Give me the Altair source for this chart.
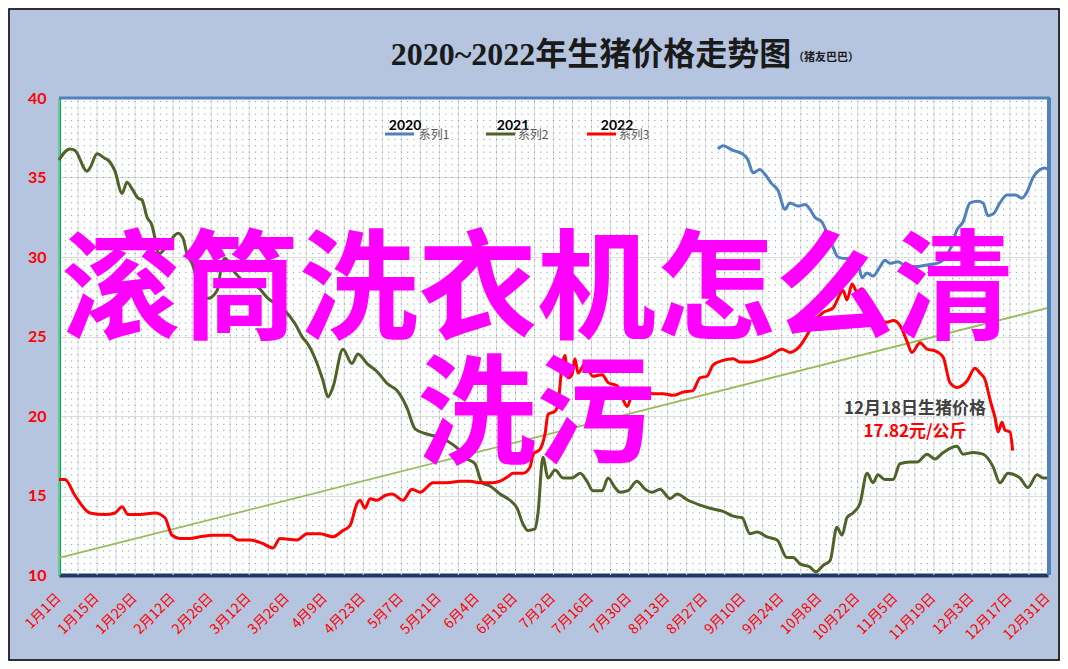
import altair as alt
import pandas as pd

# ---------------- text ----------------
title_main = "2020~2022年生猪价格走势图"
title_sub = "（猪友巴巴）"
overlay_lines = ["滚筒洗衣机怎么清", "洗污"]
note_lines = ["12月18日生猪价格", "17.82元/公斤"]
series_names = ["系列1", "系列2", "系列3"]
series_years = ["2020", "2021", "2022"]
series_colors = ["#4f81bd", "#4f6228", "#ff0000"]
series_widths = [3, 3, 3.8]
trend_color = "#9bbb59"

x_tick_labels = ["1月1日", "1月15日", "1月29日", "2月12日", "2月26日", "3月12日", "3月26日",
                 "4月9日", "4月23日", "5月7日", "5月21日", "6月4日", "6月18日", "7月2日",
                 "7月16日", "7月30日", "8月13日", "8月27日", "9月10日", "9月24日", "10月8日",
                 "10月22日", "11月5日", "11月19日", "12月3日", "12月17日", "12月31日"]
x_tick_days = [0, 14, 28, 42, 56, 70, 84, 98, 112, 126, 140, 154, 168, 182, 196, 210,
               224, 238, 252, 266, 280, 294, 308, 322, 336, 350, 364]
x_grid_days = [0, 7, 14, 21, 28, 35, 42, 49, 56, 63, 70, 77, 84, 91, 98, 105, 112, 119, 126,
               133, 140, 147, 154, 161, 168, 175, 182, 189, 196, 203, 210, 217, 224, 231, 238,
               245, 252, 259, 266, 273, 280, 287, 294, 301, 308, 315, 322, 329, 336, 343, 350,
               357, 364]
y_ticks = [10, 15, 20, 25, 30, 35, 40]

# ---------------- series (day of year, price) ----------------
days_2020 = [242.5, 244.4, 248.1, 251.4, 253.6, 255.4, 258.0, 259.8, 262.4, 264.6, 267.2, 269.0,
             272.0, 274.6, 276.4, 278.2, 280.8, 282.7, 284.9, 286.7, 289.3, 292.2, 294.1, 295.5,
             297.4, 299.6, 302.2, 304.0, 305.8, 308.8, 312.1, 315.8, 319.5, 323.1, 326.8, 328.7,
             330.5, 332.7, 335.3, 338.2, 340.1, 341.9, 343.8, 346.3, 348.9, 351.9, 354.4, 356.3,
             358.5, 361.1, 362.9, 364.0]
vals_2020 = [36.8, 37.0, 36.7, 36.5, 36.1, 35.3, 35.5, 35.2, 34.6, 34.2, 33.0, 33.4,
             33.2, 33.3, 33.0, 32.5, 32.2, 31.5, 30.6, 30.0, 29.9, 29.9, 29.6, 28.7,
             29.0, 28.8, 29.4, 29.8, 29.6, 29.7, 29.4, 29.4, 29.5, 29.6, 30.1, 30.8,
             31.7, 32.2, 33.4, 33.5, 33.4, 32.6, 32.7, 33.4, 33.9, 33.9, 33.7, 34.1,
             35.0, 35.5, 35.6, 35.5]

days_2021 = [0, 4.0, 5.9, 10.3, 11.4, 14.0, 16.9, 18.0, 20.6, 23.2, 25.0, 27.2, 29.1, 30.5,
             32.4, 34.2, 35.3, 36.8, 40.1, 43.8, 45.6, 47.1, 49.0, 52.6, 54.8, 58.2, 60.0,
             61.1, 64.8, 68.5, 73.2, 76.9, 82.1, 86.9, 89.8, 91.3, 95.0, 97.2, 99.0, 100.8,
             104.5, 107.8, 110.0, 113.4, 117.0, 121.1, 124.4, 128.1, 131.0, 134.7, 139.1,
             143.2, 146.5, 150.2, 153.1, 155.7, 158.6, 162.3, 166.0, 168.6, 170.8, 172.6,
             175.2, 176.3, 178.1, 180.0, 182.6, 185.5, 188.8, 191.8, 194.3, 196.5, 199.9,
             202.1, 204.6, 206.5, 209.4, 212.7, 215.7, 218.3, 221.2, 224.9, 227.5, 231.5,
             235.9, 239.6, 244.4, 248.1, 251.4, 254.3, 256.9, 260.6, 264.3, 267.9, 270.2,
             272.7, 276.4, 278.6, 281.2, 283.8, 286.3, 288.2, 290.0, 292.2, 294.8, 297.4,
             299.6, 301.4, 304.0, 307.0, 309.5, 313.2, 315.8, 319.5, 322.4, 325.4, 330.5,
             332.7, 336.4, 340.1, 343.8, 346.3, 349.3, 353.7, 356.6, 360.0, 362.2, 364.0]
vals_2021 = [36.1, 36.8, 36.7, 35.4, 35.6, 36.5, 36.2, 36.1, 35.4, 34.0, 34.7, 34.2, 33.7, 33.6,
             32.5, 32.0, 31.2, 30.2, 30.8, 31.5, 31.2, 30.2, 29.6, 27.6, 27.4, 27.9, 29.6,
             29.9, 29.0, 28.4, 28.1, 27.4, 26.8, 25.8, 24.9, 24.6, 23.3, 22.2, 21.2, 21.8,
             24.2, 23.3, 23.9, 23.3, 22.8, 22.0, 21.6, 20.5, 19.2, 18.9, 18.7,
             18.4, 18.0, 17.3, 17.0, 15.8, 15.6, 15.1, 14.7, 14.2, 13.2, 12.8,
             12.9, 13.9, 17.4, 16.1, 16.6, 16.1, 16.1, 16.4, 15.9, 15.3, 15.3,
             16.1, 15.5, 15.2, 15.3, 15.9, 15.4, 15.2, 15.4, 14.8, 15.1, 14.7,
             14.4, 14.2, 14.0, 13.7, 13.6, 12.6, 12.7, 12.4, 12.2, 11.1, 11.1,
             10.7, 10.5, 10.2, 10.6, 10.9, 13.0, 12.5, 13.6, 13.9, 14.5, 16.4,
             15.8, 16.3, 16.0, 16.0, 17.0, 17.1, 17.1, 17.6, 17.3, 17.7, 18.1,
             17.6, 17.7, 17.6, 16.8, 15.8, 16.4, 16.1, 15.5, 16.3, 16.1, 16.1]

days_2022 = [0, 2.2, 5.9, 11.4, 16.9, 20.6, 23.2, 25.4, 29.8, 35.3, 39.0, 41.6, 44.5, 48.2,
             51.9, 56.7, 62.9, 65.9, 70.3, 74.7, 78.8, 81.3, 87.6, 91.3, 96.1, 100.8, 104.5,
             107.1, 109.7, 110.8, 112.6, 114.5, 117.0, 120.0, 122.6, 126.6, 129.9, 132.9,
             137.7, 142.8, 147.6, 151.3, 155.0, 159.7, 162.3, 165.3, 167.1, 170.8, 173.4,
             174.5, 177.0, 178.9, 180.0, 182.6, 183.7, 185.1, 186.2, 187.3, 188.8, 189.9,
             191.0, 193.6, 196.5, 199.9, 202.1, 205.4, 207.2, 209.1, 211.3, 214.9, 218.6,
             222.3, 226.0, 229.7, 233.3, 235.9, 238.5, 240.7, 244.4, 248.1, 250.6, 254.3,
             258.7, 261.7, 266.1, 269.0, 272.7, 275.7, 278.2, 281.2, 284.9, 288.6, 290.0,
             291.9, 293.7, 295.5, 297.4, 299.6, 302.2, 304.7, 307.0, 309.5, 312.1, 313.9,
             316.9, 319.5, 322.4, 325.4, 327.9, 330.5, 334.2, 337.1, 339.0, 340.8, 342.7,
             344.5, 345.6, 347.1, 348.2, 350.0, 351.0]
vals_2022 = [16.0, 16.0, 15.0, 13.9, 13.8, 13.9, 14.3, 13.8, 13.8, 13.9, 13.6, 12.5, 12.3, 12.3,
             12.4, 12.5, 12.5, 12.2, 12.2, 12.0, 11.7, 12.3, 12.2, 12.6, 12.6, 12.4, 12.8,
             13.1, 14.5, 14.7, 14.2, 14.8, 14.7, 15.0, 15.1, 14.7, 15.4, 15.2,
             15.8, 15.8, 15.9, 15.9, 15.8, 15.8, 15.9, 16.2, 16.4, 16.4, 16.8,
             17.6, 17.9, 18.9, 20.1, 20.3, 20.8, 23.1, 23.8, 22.4, 22.6, 23.6,
             22.7, 23.3, 22.5, 22.6, 22.1, 21.9, 21.2, 20.6, 21.5, 21.6, 21.4,
             21.4, 21.3, 21.5, 21.6, 22.4, 22.5, 23.2, 23.5, 23.6, 23.4, 23.4,
             23.6, 23.8, 24.2, 24.0, 24.4, 25.2, 26.0, 26.5, 26.8, 27.9, 27.3,
             28.3, 27.8, 28.0, 27.3, 26.8, 26.0, 25.9, 26.0, 25.7, 24.7, 24.0,
             24.6, 24.2, 24.1, 23.7, 22.1, 21.8, 22.2, 23.0, 22.7, 22.3, 21.0,
             19.9, 19.0, 19.6, 19.1, 19.0, 17.82]

trend_days = [0, 364]
trend_vals = [11.07, 26.8]

# ---------------- tables ----------------
rows = []
for name, ds, vs in zip(series_names, [days_2020, days_2021, days_2022],
                        [vals_2020, vals_2021, vals_2022]):
    for d, v in zip(ds, vs):
        rows.append({"day": d, "value": v, "series": name})
df = pd.DataFrame(rows)
trend_df = pd.DataFrame({"day": trend_days, "value": trend_vals})
xlab_df = pd.DataFrame({"day": x_tick_days, "label": x_tick_labels})
grid_df = pd.DataFrame({"day": x_grid_days})
# dotted background texture of the plot area (3 dot columns per weekly cell)
dot_df = pd.DataFrame({"day": [k * 7 / 3 for k in range(1, 157)]})
one = pd.DataFrame({"k": [0]})

W, H = 989, 477
PAD = {"left": 51, "top": 90, "right": 12, "bottom": 86}

x_scale = alt.Scale(domain=[0, 364], nice=False, zero=False)
y_scale = alt.Scale(domain=[10, 40], nice=False, zero=False)

x_enc = alt.X("day:Q", scale=x_scale,
              axis=alt.Axis(values=x_tick_days, title=None, labels=False, ticks=False,
                            grid=False, domainColor="#1f3864", domainWidth=4))
y_enc = alt.Y("value:Q", scale=y_scale,
              axis=alt.Axis(values=y_ticks, title=None, labelColor="#ff0000", labelFontSize=16,
                            labelFontWeight="bold", labelFont="Lato", labelPadding=13,
                            ticks=False, grid=True, gridColor="#dcdcdc", gridWidth=1,
                            domainColor="#00b050", domainWidth=3))

dots = alt.Chart(dot_df).mark_rule(color="#4a6aa8", strokeWidth=1, strokeDash=[1, 5.33],
                                   opacity=0.75).encode(
    x=alt.X("day:Q", scale=x_scale), y=alt.value(3), y2=alt.value(H))

vgrid = alt.Chart(grid_df).mark_rule(color="#dcdcdc", strokeWidth=1).encode(
    x=alt.X("day:Q", scale=x_scale), y=alt.value(0), y2=alt.value(H))

lines = alt.Chart(df).mark_line(interpolate="monotone").encode(
    x=x_enc, y=y_enc,
    color=alt.Color("series:N", scale=alt.Scale(domain=series_names, range=series_colors),
                    legend=None),
    strokeWidth=alt.StrokeWidth("series:N",
                                scale=alt.Scale(domain=series_names, range=series_widths),
                                legend=None),
    detail="series:N",
)

trend = alt.Chart(trend_df).mark_line(strokeWidth=1.8, color=trend_color).encode(
    x=alt.X("day:Q", scale=x_scale), y=alt.Y("value:Q", scale=y_scale))

xlabels = alt.Chart(xlab_df).mark_text(angle=315, align="right", baseline="middle",
                                       font="Noto Sans CJK SC", fontSize=14,
                                       color="#ff0000").encode(
    x=alt.X("day:Q", scale=x_scale), y=alt.value(H + 21), text="label:N")

layers = [vgrid, dots, trend, lines, xlabels]

# top and right borders of the plot area
layers.append(alt.Chart(one).mark_rule(color="#4f81bd", strokeWidth=3).encode(
    x=alt.value(0), x2=alt.value(W + 2), y=alt.value(0)))
layers.append(alt.Chart(one).mark_rule(color="#4f81bd", strokeWidth=4).encode(
    x=alt.value(W + 1), y=alt.value(0), y2=alt.value(H)))

# outer frame
layers.append(alt.Chart(one).mark_rect(filled=False, stroke="black", strokeWidth=1.5).encode(
    x=alt.value(-PAD["left"] + 1), x2=alt.value(W + PAD["right"] - 1),
    y=alt.value(-PAD["top"] + 1), y2=alt.value(H + PAD["bottom"] - 1)))

# title
layers.append(alt.Chart(one).mark_text(text=title_main, font="Liberation Serif, Noto Sans CJK SC",
                                       fontSize=32, fontWeight="bold", color="#1a1a1a",
                                       align="center", baseline="middle").encode(
    x=alt.value(532), y=alt.value(-43)))
layers.append(alt.Chart(one).mark_text(text=title_sub, font="Noto Sans CJK SC",
                                       fontSize=11, fontWeight="bold", color="#1a1a1a",
                                       align="center", baseline="middle").encode(
    x=alt.value(767), y=alt.value(-40)))

# legend
leg_line_x = [326, 427, 528]
leg_year_x = [346, 454, 558]
leg_name_x = [375, 474, 575]
for i in range(3):
    layers.append(alt.Chart(one).mark_rule(color=series_colors[i], strokeWidth=3).encode(
        x=alt.value(leg_line_x[i]), x2=alt.value(leg_line_x[i] + 29), y=alt.value(36)))
    layers.append(alt.Chart(one).mark_text(text=series_years[i], font="Lato", fontSize=14,
                                           fontWeight="bold", color="#000000",
                                           align="center", baseline="middle").encode(
        x=alt.value(leg_year_x[i]), y=alt.value(28)))
    layers.append(alt.Chart(one).mark_text(text=series_names[i], font="Noto Sans CJK SC",
                                           fontSize=12, color="#595959",
                                           align="center", baseline="middle").encode(
        x=alt.value(leg_name_x[i]), y=alt.value(37)))

# annotation
layers.append(alt.Chart(one).mark_text(text=note_lines[0], font="Noto Sans CJK SC", fontSize=17,
                                       fontWeight="bold", color="#404040",
                                       align="center", baseline="middle").encode(
    x=alt.value(856), y=alt.value(311)))
layers.append(alt.Chart(one).mark_text(text=note_lines[1], font="Noto Sans CJK SC", fontSize=17,
                                       fontWeight="bold", color="#ff0000",
                                       align="center", baseline="middle").encode(
    x=alt.value(856), y=alt.value(334)))

# overlay text
layers.append(alt.Chart(one).mark_text(text=overlay_lines[0], font="Noto Sans CJK SC",
                                       fontSize=119, fontWeight="bold", color="#ff00ff",
                                       align="center", baseline="middle").encode(
    x=alt.value(478), y=alt.value(196)))
layers.append(alt.Chart(one).mark_text(text=overlay_lines[1], font="Noto Sans CJK SC",
                                       fontSize=119, fontWeight="bold", color="#ff00ff",
                                       align="center", baseline="middle").encode(
    x=alt.value(477), y=alt.value(321)))

chart = alt.layer(*layers).properties(
    width=W, height=H, autosize=alt.AutoSizeParams(type="none"),
    padding=PAD, background="#b5c5df",
).configure_view(stroke=None, fill="white")

chart.save("out.html", embed_options={"renderer": "svg", "actions": False})
